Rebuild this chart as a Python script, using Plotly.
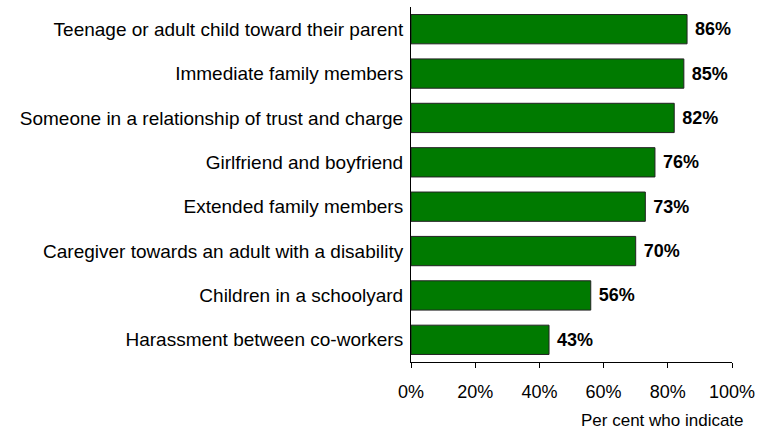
import plotly.graph_objects as go

categories = [
    "Teenage or adult child toward their parent",
    "Immediate family members",
    "Someone in a relationship of trust and charge",
    "Girlfriend and boyfriend",
    "Extended family members",
    "Caregiver towards an adult with a disability",
    "Children in a schoolyard",
    "Harassment between co-workers",
]
values = [86, 85, 82, 76, 73, 70, 56, 43]
value_labels = [f" {v}%" for v in values]
tick_vals = [0, 20, 40, 60, 80, 100]
tick_text = ["0%", "20%", "40%", "60%", "80%", "100%"]

SANS = "Liberation Sans, Arial, sans-serif"

fig = go.Figure(go.Bar(
    y=categories,
    x=values,
    orientation="h",
    marker=dict(color="#007A00", line=dict(color="#222222", width=1)),
    text=value_labels,
    textposition="outside",
    textfont=dict(family=SANS, size=18, color="#000000", weight="bold"),
    cliponaxis=False,
))

fig.update_layout(
    width=762, height=433,
    margin=dict(l=411, r=27, t=7, b=71),
    paper_bgcolor="white",
    plot_bgcolor="white",
    bargap=0.34,
    showlegend=False,
    xaxis=dict(
        range=[0, 100],
        tickvals=tick_vals,
        ticktext=tick_text,
        ticks="outside",
        ticklen=5,
        tickcolor="#000000",
        showline=True,
        linecolor="#000000",
        linewidth=1,
        showgrid=False,
        zeroline=False,
        ticklabelstandoff=8,
        tickfont=dict(family=SANS, size=18, color="#000000"),
    ),
    yaxis=dict(
        autorange="reversed",
        showline=True,
        linecolor="#000000",
        linewidth=1,
        showgrid=False,
        ticks="",
        ticklabelstandoff=3,
        tickfont=dict(family=SANS, size=19, color="#000000"),
    ),
    annotations=[dict(
        text="Per cent who indicate",
        xref="paper", yref="paper",
        x=1.043, y=-0.198,
        xanchor="right", yanchor="bottom",
        showarrow=False,
        font=dict(family=SANS, size=17, color="#000000"),
    )],
)

fig.write_html("out.html", config={"displayModeBar": False},
               post_script="document.body.style.margin='0';")
